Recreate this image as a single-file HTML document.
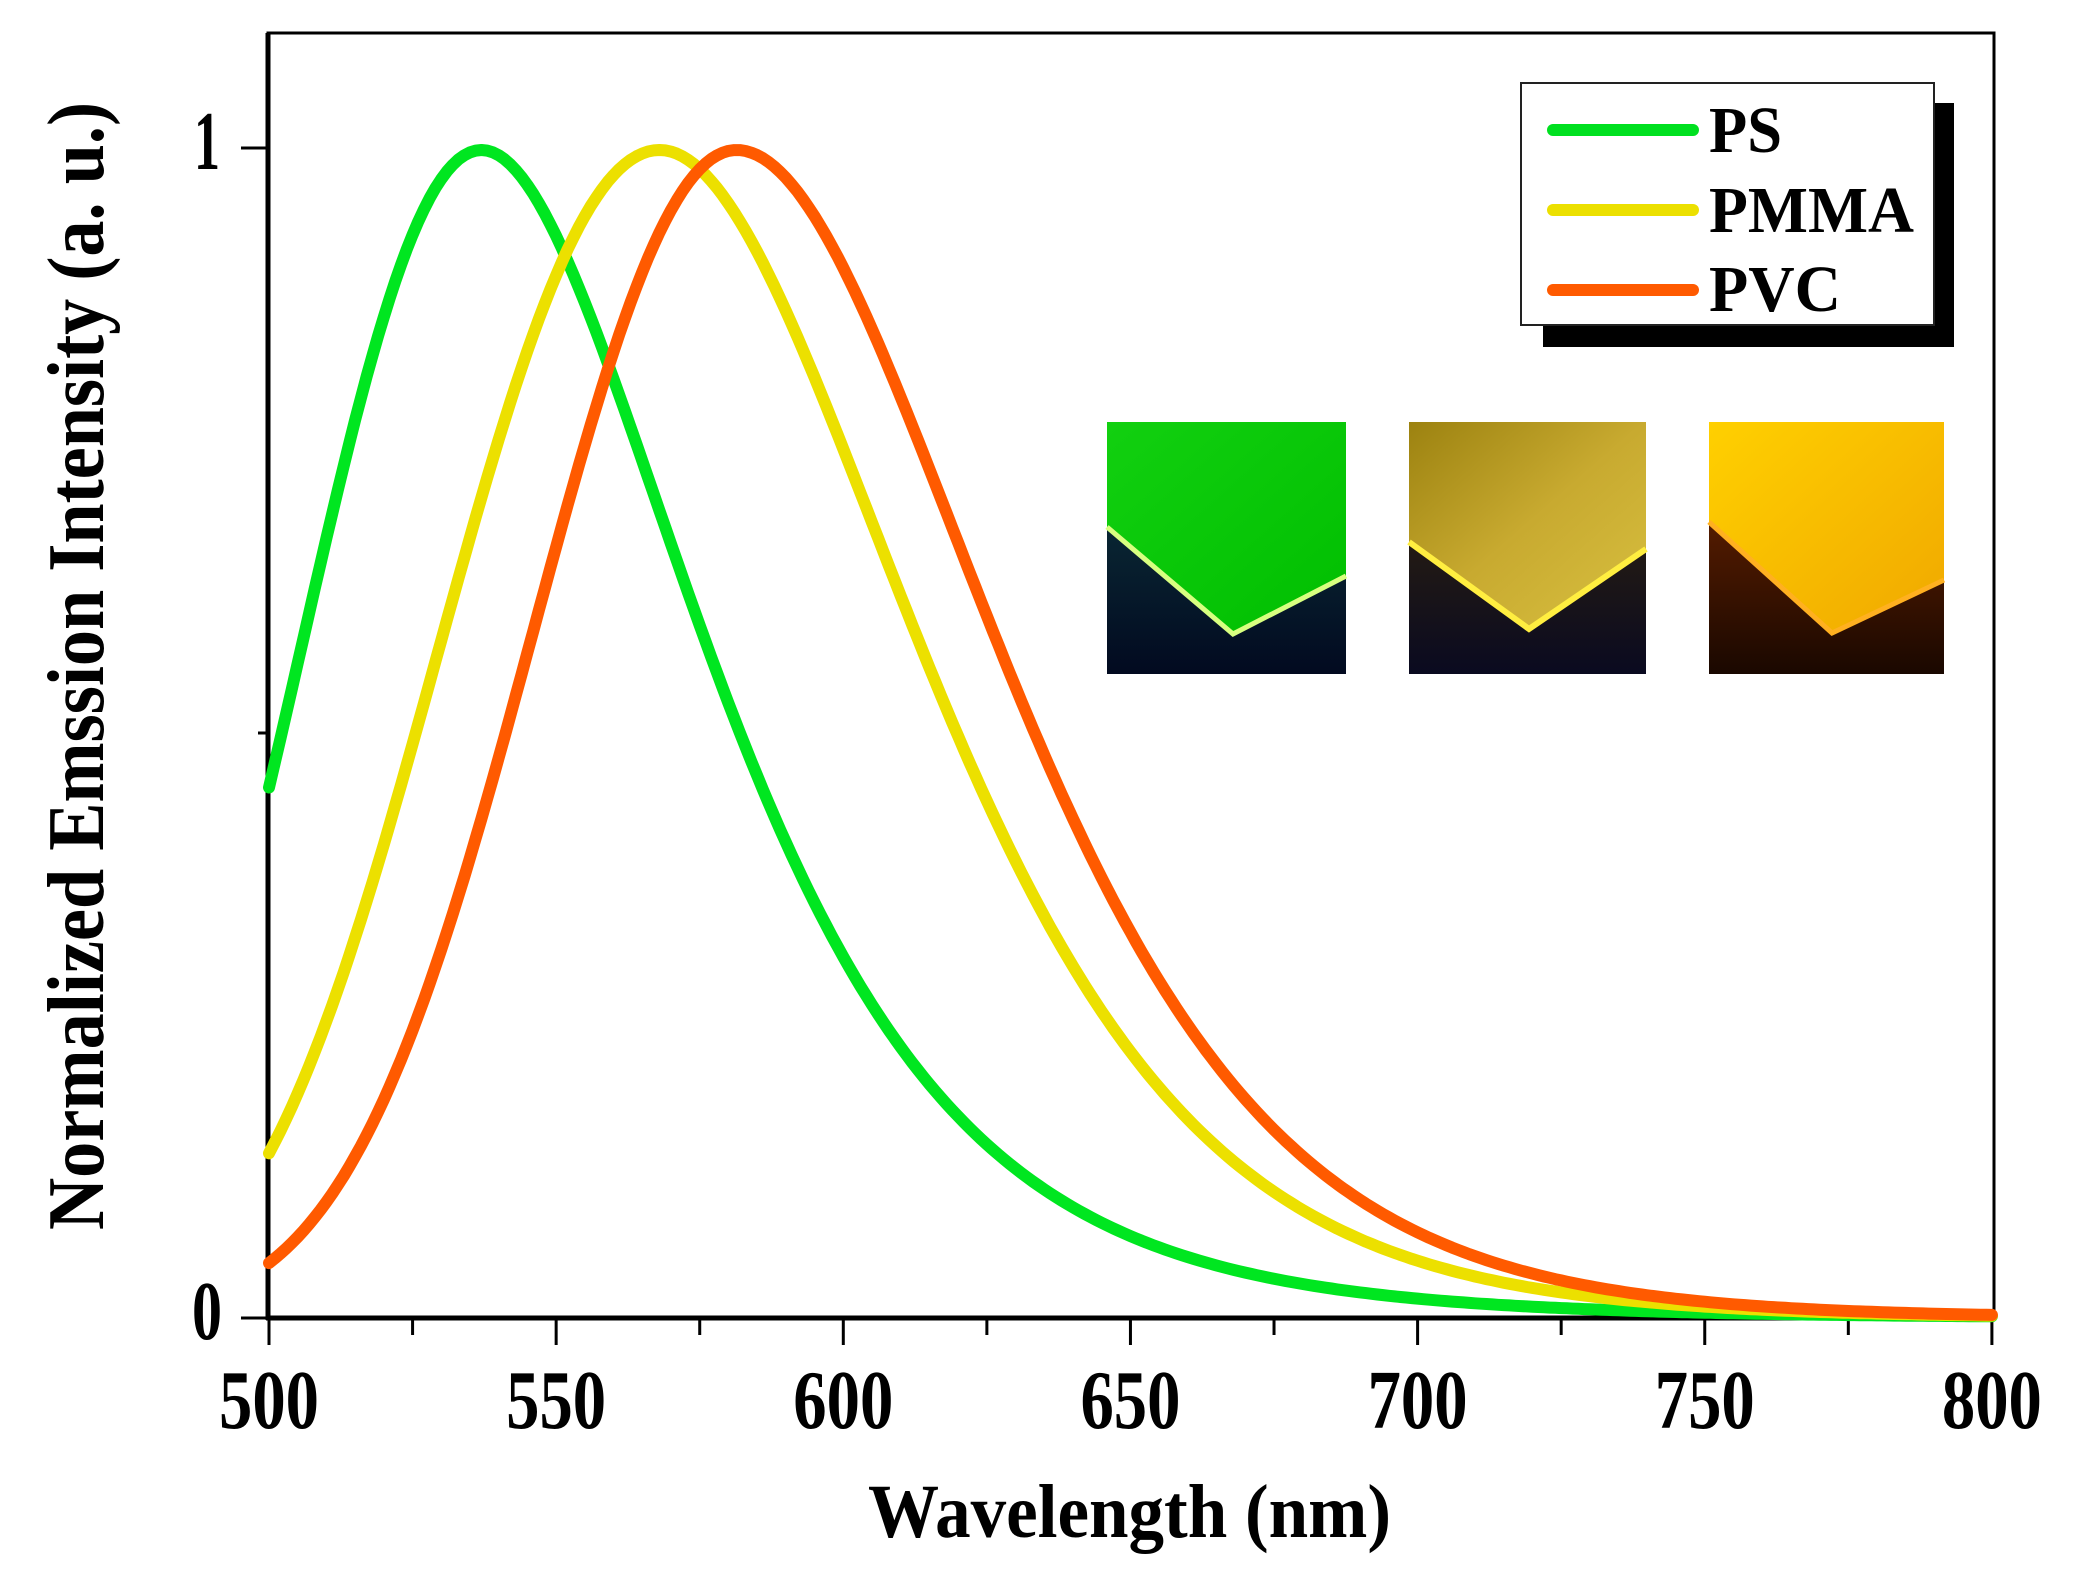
<!DOCTYPE html>
<html><head><meta charset="utf-8"><style>
html,body{margin:0;padding:0;background:#fff;}
svg{display:block;}
text{font-family:"Liberation Serif",serif;font-weight:bold;fill:#000;}
</style></head><body>
<svg id="s" width="2077" height="1571" viewBox="0 0 2077 1571" xmlns="http://www.w3.org/2000/svg">
<defs>
<linearGradient id="g1" x1="0" y1="0" x2="1" y2="1"><stop offset="0" stop-color="#12d010"/><stop offset="1" stop-color="#00be00"/></linearGradient>
<linearGradient id="g2" x1="0" y1="0" x2="1" y2="1"><stop offset="0" stop-color="#9c8210"/><stop offset="0.5" stop-color="#c8aa30"/><stop offset="1" stop-color="#d8c040"/></linearGradient>
<linearGradient id="g3" x1="0" y1="0" x2="1" y2="1"><stop offset="0" stop-color="#ffd000"/><stop offset="1" stop-color="#f0a800"/></linearGradient>
<linearGradient id="d1" x1="0" y1="0" x2="0" y2="1"><stop offset="0" stop-color="#0e3a40"/><stop offset="1" stop-color="#020a20"/></linearGradient>
<linearGradient id="d2" x1="0" y1="0" x2="0" y2="1"><stop offset="0" stop-color="#3a2a08"/><stop offset="1" stop-color="#0a0a20"/></linearGradient>
<linearGradient id="d3" x1="0" y1="0" x2="0" y2="1"><stop offset="0" stop-color="#7a2800"/><stop offset="1" stop-color="#1a0800"/></linearGradient>
</defs>
<rect x="268" y="33" width="1726" height="1285" fill="none" stroke="#000" stroke-width="3"/>
<line x1="268" y1="33" x2="268" y2="1320" stroke="#000" stroke-width="5"/>
<line x1="266" y1="1318" x2="1994" y2="1318" stroke="#000" stroke-width="5"/>
<g id="ticks" stroke="#000" stroke-width="3"></g>
<text x="220" y="169" font-size="84" text-anchor="end" textLength="26" lengthAdjust="spacingAndGlyphs">1</text>
<text x="222" y="1339" font-size="84" text-anchor="end" textLength="30" lengthAdjust="spacingAndGlyphs">0</text>
<g id="xl"></g>
<text x="868" y="1537" font-size="76" textLength="523" lengthAdjust="spacingAndGlyphs">Wavelength (nm)</text>
<text transform="translate(103,1230) rotate(-90)" x="0" y="0" font-size="80" textLength="1128" lengthAdjust="spacingAndGlyphs">Normalized Emssion Intensity (a. u.)</text>

<g>
<rect x="1107" y="422" width="239" height="252" fill="url(#d1)"/>
<polygon points="1107,422 1346,422 1346,576 1233,634 1107,527" fill="url(#g1)"/>
<polyline points="1107,527 1233,634 1346,576" fill="none" stroke="#d8ff80" stroke-width="5"/>
<rect x="1409" y="422" width="237" height="252" fill="url(#d2)"/>
<polygon points="1409,422 1646,422 1646,549 1529,629 1409,542" fill="url(#g2)"/>
<polyline points="1409,542 1529,629 1646,549" fill="none" stroke="#ffee40" stroke-width="6"/>
<rect x="1709" y="422" width="235" height="252" fill="url(#d3)"/>
<polygon points="1709,422 1944,422 1944,580 1832,633 1709,522" fill="url(#g3)"/>
<polyline points="1709,522 1832,633 1944,580" fill="none" stroke="#ffb020" stroke-width="5"/>
</g>

<g id="curves" fill="none" stroke-width="12" stroke-linejoin="round" stroke-linecap="round"></g>

<rect x="1543" y="103" width="411" height="244" fill="#000"/>
<rect x="1521" y="83" width="413" height="242" fill="#fff" stroke="#222" stroke-width="2"/>
<line x1="1553" y1="130" x2="1693" y2="130" stroke="#00e020" stroke-width="12" stroke-linecap="round"/>
<line x1="1553" y1="210" x2="1693" y2="210" stroke="#ece000" stroke-width="12" stroke-linecap="round"/>
<line x1="1553" y1="290" x2="1693" y2="290" stroke="#ff5a00" stroke-width="12" stroke-linecap="round"/>
<text x="1709" y="152" font-size="66" textLength="73" lengthAdjust="spacingAndGlyphs">PS</text>
<text x="1709" y="232" font-size="66" textLength="205" lengthAdjust="spacingAndGlyphs">PMMA</text>
<text x="1709" y="311" font-size="66" textLength="132" lengthAdjust="spacingAndGlyphs">PVC</text>
</svg>
<script>
(function(){
var NS="http://www.w3.org/2000/svg";
function X(nm){return 269+(nm-500)*5.743;}
function Y(v){return 1318-v*1168;}
var t=document.getElementById("ticks"),xl=document.getElementById("xl");
function ln(x1,y1,x2,y2,p){var l=document.createElementNS(NS,"line");l.setAttribute("x1",x1);l.setAttribute("y1",y1);l.setAttribute("x2",x2);l.setAttribute("y2",y2);p.appendChild(l);}
for(var nm=500;nm<=800;nm+=25){var maj=(nm%50==0);ln(X(nm),1318,X(nm),1318+(maj?27:17),t);
 if(maj){var tx=document.createElementNS(NS,"text");tx.setAttribute("x",X(nm)-50);tx.setAttribute("y",1428);tx.setAttribute("font-size","84");tx.setAttribute("textLength","100");tx.setAttribute("lengthAdjust","spacingAndGlyphs");tx.textContent=nm;xl.appendChild(tx);}}
ln(268,148,241,148,t);ln(268,1318,241,1318,t);ln(268,733,258,733,t);
var series=[
 {c:"#00e620",p:537,sl:function(d){return 0.136;},sr:function(d){return 0.134+0.1*d;}},
 {c:"#ece000",p:568,sl:function(d){return 0.15;},sr:function(d){return 0.145+0.055*d;}},
 {c:"#ff5a00",p:581.4,sl:function(d){return 0.13+0.03*Math.abs(d);},sr:function(d){return 0.14+0.05*d;}}
];
var g=document.getElementById("curves");
series.forEach(function(s){
 var E0=1240/s.p,d="";
 for(var nm=500;nm<=800;nm+=1){var E=1240/nm,D=E0-E,sg=D>=0?s.sr(D):s.sl(D);var v=Math.exp(-D*D/(2*sg*sg));
  d+=(nm==500?"M":"L")+X(nm).toFixed(1)+","+Y(v).toFixed(1);}
 var p=document.createElementNS(NS,"path");p.setAttribute("d",d);p.setAttribute("stroke",s.c);g.appendChild(p);
});
})();
</script>
</body></html>
